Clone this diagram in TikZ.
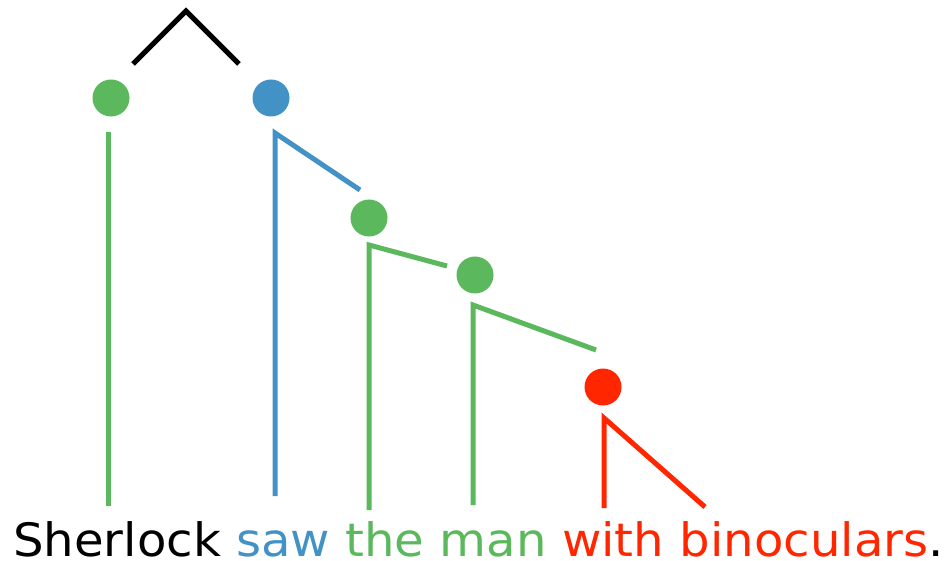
\documentclass[tikz,border=0pt]{standalone}
\usepackage{fontspec}
\setmainfont{DejaVu Sans}
\definecolor{cgreen}{RGB}{92,184,92}
\definecolor{cblue}{RGB}{67,146,198}
\definecolor{cred}{RGB}{255,38,0}
\begin{document}
\begin{tikzpicture}[x=1pt,y=-1pt,
  dot/.style={circle,fill=#1,minimum size=37pt,inner sep=0pt},
  edge/.style={draw=#1,line width=5pt}]
\useasboundingbox (0,0) rectangle (945,561);
% dots
\node[dot=cgreen] (g1) at (111,98) {};
\node[dot=cblue]  (b1) at (271,98) {};
\node[dot=cgreen] (g2) at (369,218) {};
\node[dot=cgreen] (g3) at (475,275) {};
\node[dot=cred]   (r1) at (603,387) {};
% coordinates
\coordinate (tl) at (133,64);
\coordinate (tt) at (186,11);
\coordinate (tr) at (239,64);
\coordinate (g1a) at (108,132);
\coordinate (g1b) at (108,506);
\coordinate (b1d) at (360,190);
\coordinate (b1a) at (275,133);
\coordinate (b1b) at (275,496);
\coordinate (g2d) at (447,266);
\coordinate (g2a) at (369,245);
\coordinate (g2b) at (369,510);
\coordinate (g3d) at (596,350);
\coordinate (g3a) at (473,305);
\coordinate (g3b) at (473,505);
\coordinate (r1a) at (604,418);
\coordinate (r1b) at (604,508);
\coordinate (r1d) at (705,507);
% lines
\draw[edge=black] (tl) -- (tt) -- (tr);
\draw[edge=cgreen] (g1a) -- (g1b);
\draw[edge=cblue] (b1d) -- (b1a) -- (b1b);
\draw[edge=cgreen] (g2d) -- (g2a) -- (g2b);
\draw[edge=cgreen] (g3d) -- (g3a) -- (g3b);
\draw[edge=cred] (r1b) -- (r1a) -- (r1d);
% sentence
\node[anchor=base west,inner sep=0pt,font=\fontsize{46}{50}\selectfont] (sent) at (13,556)
  {\scalebox{1.047}[1]{Sherlock \textcolor{cblue}{saw} \textcolor{cgreen}{the man} \textcolor{cred}{with binoculars}.}};
\end{tikzpicture}
\end{document}
